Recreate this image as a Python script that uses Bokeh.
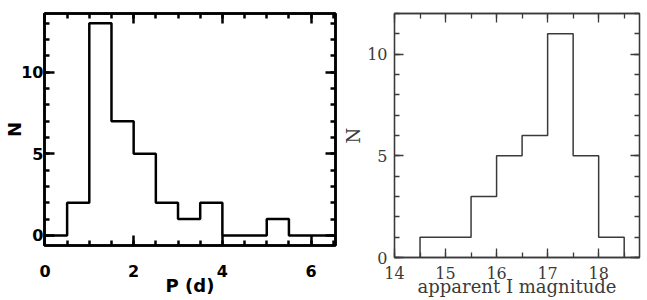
from bokeh.plotting import figure
from bokeh.layouts import row, column
from bokeh.models import LinearAxis, SingleIntervalTicker, Range1d
from bokeh.embed import file_html
from bokeh.resources import INLINE

# Left panel: period histogram
period_edges = [0.0, 0.5, 1.0, 1.5, 2.0, 2.5, 3.0, 3.5, 4.0, 4.5, 5.0, 5.5, 6.0, 6.5]
period_counts = [0, 2, 13, 7, 5, 2, 1, 2, 0, 0, 1, 0, 0]

# Right panel: apparent I magnitude histogram
mag_edges = [14.5, 15.0, 15.5, 16.0, 16.5, 17.0, 17.5, 18.0, 18.5]
mag_counts = [1, 1, 3, 5, 6, 11, 5, 1]


def step_outline(edges, counts):
    xs = [edges[0]]
    ys = [0]
    for i, c in enumerate(counts):
        xs += [edges[i], edges[i + 1]]
        ys += [c, c]
    xs.append(edges[-1])
    ys.append(0)
    return xs, ys


def setup_axes(p, xint, xminor, yint, yminor, font, fsize, lsize, fstyle, color,
               lw, tin, tmin, xlabel, ylabel, xstand, ystand, xlstand, ylstand):
    p.xgrid.visible = False
    p.ygrid.visible = False
    p.outline_line_color = color
    p.outline_line_width = lw
    xa = p.xaxis[0]
    ya = p.yaxis[0]
    xa.axis_label = xlabel
    ya.axis_label = ylabel
    xa.major_label_standoff = xstand
    ya.major_label_standoff = ystand
    xa.axis_label_standoff = xlstand
    ya.axis_label_standoff = ylstand
    for ax, interval, nminor in ((xa, xint, xminor), (ya, yint, yminor)):
        ax.ticker = SingleIntervalTicker(interval=interval, num_minor_ticks=nminor)
    axes = [xa, ya]
    for loc, (interval, nminor) in (("above", (xint, xminor)), ("right", (yint, yminor))):
        ax = LinearAxis(ticker=SingleIntervalTicker(interval=interval, num_minor_ticks=nminor))
        ax.major_label_text_font_size = "1px"
        ax.major_label_text_color = None
        ax.major_label_standoff = 0
        p.add_layout(ax, loc)
        axes.append(ax)
    for ax in axes:
        ax.axis_line_color = color
        ax.axis_line_width = lw
        ax.major_tick_line_color = color
        ax.minor_tick_line_color = color
        ax.major_tick_line_width = lw
        ax.minor_tick_line_width = lw
        ax.major_tick_in = tin
        ax.major_tick_out = 0
        ax.minor_tick_in = tmin
        ax.minor_tick_out = 0
        ax.major_label_text_font = font
        ax.major_label_text_font_style = fstyle
        ax.axis_label_text_font = font
        ax.axis_label_text_font_style = fstyle
        ax.axis_label_text_color = color
        ax.axis_label_text_font_size = lsize
    for ax in (xa, ya):
        ax.major_label_text_font_size = fsize
        ax.major_label_text_color = color


p1 = figure(width=340, height=300, output_backend="svg", toolbar_location=None,
            x_range=Range1d(-0.01, 6.55), y_range=Range1d(-0.62, 13.6),
            min_border_left=44, min_border_right=5, min_border_top=13,
            min_border_bottom=55, background_fill_color="white",
            border_fill_color="white")
setup_axes(p1, 2, 4, 5, 5, "DejaVu Sans", "16px", "18px", "bold", "black", 2.5, 10, 5,
           "P (d)", "N", 19, 1, -5, -7)
x1, y1 = step_outline(period_edges, period_counts)
p1.line(x1, y1, line_color="black", line_width=2.5)

p2 = figure(width=307, height=300, output_backend="svg", toolbar_location=None,
            x_range=Range1d(14.0, 18.8), y_range=Range1d(0, 12.0),
            min_border_left=54, min_border_right=8, min_border_top=13,
            min_border_bottom=43, background_fill_color="white",
            border_fill_color="white")
setup_axes(p2, 1, 2, 5, 5, "DejaVu Serif", "16px", "18px", "normal", "#3a3a3a", 1.3, 9, 5,
           "apparent I magnitude", "N", 9, 7, -6, 0)
x2, y2 = step_outline(mag_edges, mag_counts)
p2.line(x2, y2, line_color="#3a3a3a", line_width=1.5)

layout = row(column(p1), column(p2), spacing=0)
open("out.html", "w").write(file_html(layout, INLINE))
